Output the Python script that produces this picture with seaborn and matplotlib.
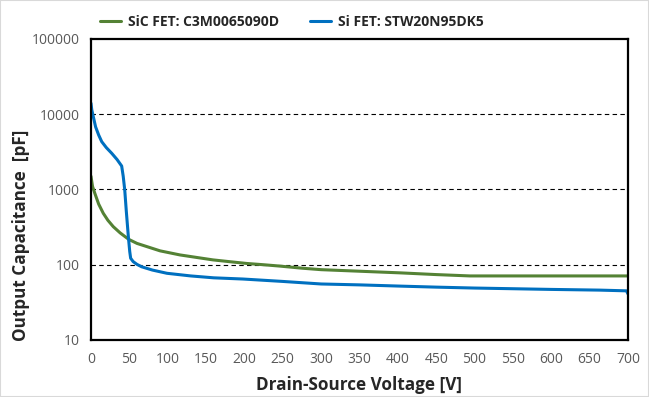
import numpy as np
import pandas as pd
import seaborn as sns
import matplotlib.pyplot as plt
from matplotlib.ticker import FixedLocator, NullLocator

# values (V, pF)
sic_v = [0, 2, 5, 10, 16, 22, 29, 38, 49, 60, 73, 90, 116, 140, 159, 180, 203, 225, 246, 275, 300, 350, 403, 450, 494, 550, 600, 650, 700]
sic_c = [1500, 1100, 890, 640, 483, 390, 321, 265, 218, 192, 174, 153, 135, 124, 116, 110, 104, 100, 96, 90, 86, 82, 78, 74, 71, 71, 71, 71, 71]

si_v = [0, 1, 3, 6, 10, 14, 20, 27, 34, 40, 42, 44, 46, 48.7, 50.5, 51.7, 55, 60, 66, 80, 99, 130, 160, 198, 250, 300, 350, 403, 450, 500, 550, 600, 663, 698, 700]
si_c = [14000, 11500, 9300, 6800, 5300, 4320, 3600, 3030, 2500, 2050, 1500, 985, 520, 236, 150, 122, 110, 101, 94, 85, 77, 71, 67, 64.6, 60, 55.5, 54, 52, 50.4, 49, 48, 47, 46, 45, 41]

sic_label = "SiC FET: C3M0065090D"
si_label = "Si FET: STW20N95DK5"

df = pd.concat([
    pd.DataFrame({"V": sic_v, "C": sic_c, "device": sic_label}),
    pd.DataFrame({"V": si_v, "C": si_c, "device": si_label}),
])

sns.set_style("white")
plt.rcParams['font.family'] = ['Open Sans', 'DejaVu Sans']

fig = plt.figure(figsize=(6.49, 3.97), dpi=100)
ax = fig.add_axes([0.1402, 0.1436, 0.8274, 0.7582])

sns.lineplot(data=df, x="V", y="C", hue="device", sort=False, estimator=None,
             palette={sic_label: "#548235", si_label: "#0070C0"}, linewidth=2.2, ax=ax)

ax.set_yscale("log")
ax.set_ylim(10, 100000)
ax.set_xlim(0, 700)
ax.set_xticks(np.arange(0, 701, 50))
ax.yaxis.set_major_locator(FixedLocator([10, 100, 1000, 10000, 100000]))
ax.yaxis.set_minor_locator(NullLocator())
ax.set_yticklabels(["10", "100", "1000", "10000", "100000"])

for y in [100, 1000, 10000]:
    ax.axhline(y, color="black", linestyle=(0, (4, 3)), linewidth=0.8, zorder=0)

for s in ax.spines.values():
    s.set_color("black")
    s.set_linewidth(1.6)

ax.tick_params(axis="x", direction="out", length=5, width=0.8, color="#BFBFBF",
               labelsize=10, labelcolor="#595959", pad=4)
ax.tick_params(axis="y", length=0, labelsize=10, labelcolor="#595959", pad=8)

ax.set_xlabel("Drain-Source Voltage [V]", fontsize=12.3, fontweight="bold", labelpad=6)
ax.set_ylabel("Output Capacitance  [pF]", fontsize=12.3, fontweight="bold")
ax.yaxis.set_label_coords(-0.113, 0.349)

ax.legend(loc="lower center", bbox_to_anchor=(0.374, 1.0), ncol=2, frameon=False,
          prop={"weight": "bold", "size": 10}, handlelength=1.5,
          handletextpad=0.5, columnspacing=2.2, borderaxespad=0.3)

fig.patches.append(plt.Rectangle((0, 0), 1, 1, transform=fig.transFigure, fill=False,
                                 edgecolor="#D9D9D9", linewidth=1.5))

fig.savefig("out.png", dpi=100)
